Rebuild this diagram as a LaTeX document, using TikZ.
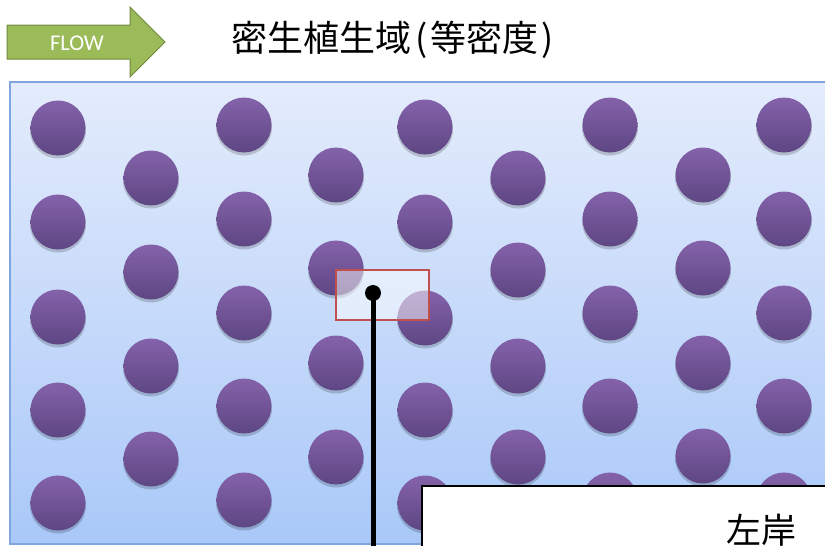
\documentclass[tikz,border=0pt]{standalone}
\usepackage{fontspec}
\newfontfamily\jpfont{Noto Sans CJK JP}
\newfontfamily\calfont{Carlito}
\definecolor{bgtop}{HTML}{E4ECFC}
\definecolor{bgbot}{HTML}{A9C8F8}
\definecolor{bgborder}{HTML}{7FA6DE}
\definecolor{plantTop}{HTML}{8462AA}
\definecolor{plantBot}{HTML}{5E4683}
\definecolor{flowfill}{HTML}{9BBB59}
\definecolor{flowline}{HTML}{71893F}
\definecolor{selred}{HTML}{C0504D}
\tikzset{
  plant/.style={circle, minimum size=55pt, inner sep=0pt, top color=plantTop, bottom color=plantBot},
  plantshadow/.style={fill=black, fill opacity=0.18},
  flowarrow/.style={fill=flowfill, draw=flowline, line width=1pt},
  selbox/.style={draw=selred, line width=2.6pt, fill=white, fill opacity=0.5, text opacity=1, minimum width=93pt, minimum height=50pt, inner sep=0pt},
  probe/.style={circle, fill=black, minimum size=16pt, inner sep=0pt},
  panelbox/.style={draw=black, fill=white, line width=2.2pt, anchor=north west, minimum width=500pt, minimum height=100pt, inner sep=0pt}
}
\begin{document}
\begin{tikzpicture}[x=1pt,y=-1pt]
\useasboundingbox (0,0) rectangle (825,546);
\clip (0,0) rectangle (825,546);
\fill[white] (0,0) rectangle (825,546);
% flow arrow
\path[flowarrow] (7,25) -- (130,25) -- (130,7) -- (165,42) -- (130,77) -- (130,59) -- (7,59) -- cycle;
\node[text=white, font=\calfont\fontsize{22.5}{26}\selectfont] (flow) at (77,43) {FLOW};
% title
\node[anchor=west, inner sep=0pt, font=\jpfont\fontsize{36}{40}\selectfont] (title) at (231,40) {密生植生域\hspace{4pt}(\hspace{3pt}等密度\hspace{3pt})};
% background field
\path[top color=bgtop, bottom color=bgbot] (10,82) rectangle (830,544);
\draw[bgborder, line width=1.2pt] (830,82) -- (10,82) -- (10,544) -- (830,544);
% plants
\foreach \x/\ylist in {58/{128,222,317,410,503}, 151/{178,272,366,459}, 244/{125,219,313,406,500}, 336/{175,268,363,457}, 425/{127,222,318,410,503}, 518/{178,270,366,457}, 610/{125,219,313,406,500}, 703/{175,268,363,456}, 784/{125,219,313,406,500}}{
  \foreach \y in \ylist {
    \fill[plantshadow] (\x,\y+2.5) circle (28pt);
    \node[plant] at (\x,\y) {};
  }
}
% selection window and probe
\node[selbox] (sel) at (382.5,295) {};
\node[probe] (dot) at (373,293) {};
\coordinate (lineend) at (373,560);
\draw[line width=5pt] (dot.center) -- (lineend);
% bottom-right panel
\node[panelbox] (panel) at (421,485) {};
\node[anchor=base west, inner sep=0pt, font=\jpfont\fontsize{35}{40}\selectfont] (lbl) at (726,543) {左岸};
\end{tikzpicture}
\end{document}
